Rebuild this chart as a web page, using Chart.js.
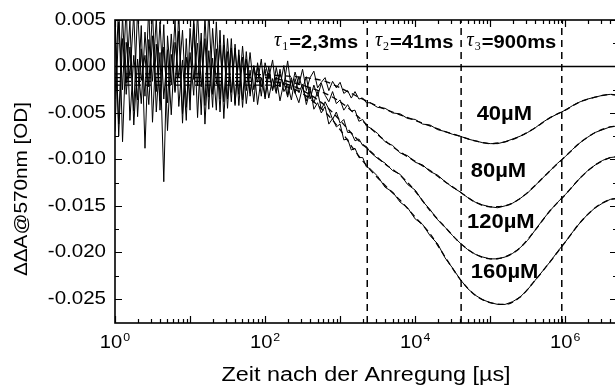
<!DOCTYPE html>
<html>
<head>
<meta charset="utf-8">
<script src="https://cdn.jsdelivr.net/npm/chart.js@4.4.1/dist/chart.umd.min.js"></script>
<style>
  html, body { margin: 0; padding: 0; background: #fff; overflow: hidden; }
  canvas { display: block; }
</style>
</head>
<body>
<canvas id="kinetics" width="618" height="387"></canvas>
<script>
// ===== Daten =====
// Zeitachse der Messkurven [µs]
const timeUs = [
  1, 1.12, 1.26, 1.41, 1.58, 1.78, 2.0, 2.24, 2.51, 2.82,
  3.16, 3.55, 3.98, 4.47, 5.01, 5.62, 6.31, 7.08, 7.94, 8.91,
  10, 11.2, 12.6, 14.1, 15.8, 17.8, 20, 22.4, 25.1, 28.2,
  31.6, 35.5, 39.8, 44.7, 50.1, 56.2, 63.1, 70.8, 79.4, 89.1,
  100, 112, 126, 141, 158, 178, 200, 224, 251, 282,
  316, 355, 398, 447, 501, 562, 631, 708, 794, 891,
  1000, 1120, 1260, 1410, 1580, 1780, 2000, 2240, 2510,
  3160, 3980, 5010, 6310, 7940, 10000, 12600, 15800, 20000, 25100,
  31600, 39800, 50100, 63100, 79400, 100000, 126000, 158000, 200000, 251000,
  316000, 398000, 501000, 631000, 794000, 1000000, 1260000, 1580000, 2000000, 2510000,
  3160000, 3980000, 5010000
];

// Messkurven ΔΔA [OD]
const trace40 = [
  0.0040, -0.0062, 0.0055, -0.0030, 0.0021, -0.0048, 0.0062, -0.0015, 0.0012, -0.0041,
  0.0033, -0.0027, 0.0048, -0.0035, 0.0018, -0.0052, 0.0026, -0.0012, 0.0039, -0.0044,
  0.0015, -0.0031, 0.0058, -0.0022, 0.0030, -0.0046, 0.0041, -0.0019, 0.0023, -0.0038,
  0.0030, -0.0028, 0.0020, -0.0030, 0.0022, -0.0026, 0.0015, -0.0025, -0.0001, -0.0032,
  0.0004, -0.0013, 0.0007, -0.0027, -0.0008, -0.0020, 0.0006, -0.0025, -0.0006, -0.0020,
  -0.0003, -0.0026, -0.0012, -0.0005, -0.0023, -0.0017, -0.0012, -0.0026, -0.0016, -0.0023,
  -0.0017, -0.0029, -0.0026, -0.0034, -0.0027, -0.0035, -0.0034, -0.0039, -0.0039,
  -0.0044, -0.0045, -0.0050, -0.0051, -0.0056, -0.0057, -0.0062, -0.0063, -0.0068, -0.0070,
  -0.0073, -0.0075, -0.0078, -0.0080, -0.0082, -0.0083, -0.0083, -0.0081, -0.0078, -0.0075,
  -0.0071, -0.0066, -0.0060, -0.0055, -0.0051, -0.0047, -0.0042, -0.0038, -0.0035, -0.0033,
  -0.0031, -0.0030, -0.0031
];
const trace80 = [
  -0.0070, 0.0048, -0.0025, 0.0066, -0.0058, 0.0012, -0.0036, 0.0044, -0.0088, 0.0029,
  -0.0016, 0.0052, -0.0047, 0.0021, -0.0039, 0.0035, -0.0028, 0.0057, -0.0051, 0.0010,
  -0.0036, 0.0046, -0.0055, 0.0027, -0.0042, 0.0061, -0.0030, 0.0019, -0.0049, 0.0034,
  -0.0035, 0.0030, -0.0042, 0.0018, -0.0036, 0.0016, -0.0032, 0.0000, -0.0017, 0.0008,
  -0.0035, -0.0007, -0.0026, -0.0001, -0.0022, 0.0001, -0.0031, -0.0015, -0.0029, -0.0011,
  -0.0024, -0.0011, -0.0035, -0.0020, -0.0032, -0.0018, -0.0031, -0.0038, -0.0027, -0.0040,
  -0.0036, -0.0047, -0.0041, -0.0048, -0.0047, -0.0059, -0.0057, -0.0064, -0.0066,
  -0.0072, -0.0081, -0.0085, -0.0093, -0.0096, -0.0103, -0.0106, -0.0113, -0.0117, -0.0124,
  -0.0130, -0.0135, -0.0141, -0.0146, -0.0149, -0.0151, -0.0152, -0.0150, -0.0147, -0.0142,
  -0.0136, -0.0128, -0.0120, -0.0112, -0.0104, -0.0097, -0.0089, -0.0082, -0.0076, -0.0071,
  -0.0068, -0.0065, -0.0064
];
const trace120 = [
  0.0058, -0.0075, 0.0030, -0.0018, 0.0049, -0.0063, 0.0008, -0.0040, 0.0037, -0.0022,
  0.0061, -0.0049, 0.0015, -0.0124, 0.0033, -0.0020, 0.0050, -0.0043, 0.0007, -0.0058,
  0.0041, -0.0014, 0.0025, -0.0052, 0.0054, -0.0033, 0.0009, -0.0047, 0.0039, -0.0056,
  0.0016, -0.0038, 0.0024, -0.0042, 0.0010, -0.0040, -0.0004, -0.0038, 0.0004, -0.0022,
  -0.0003, -0.0034, -0.0013, -0.0029, -0.0003, -0.0027, -0.0019, -0.0036, -0.0013, -0.0028,
  -0.0019, -0.0041, -0.0026, -0.0039, -0.0027, -0.0046, -0.0038, -0.0046, -0.0057, -0.0049,
  -0.0061, -0.0057, -0.0071, -0.0071, -0.0080, -0.0078, -0.0085, -0.0086, -0.0092,
  -0.0099, -0.0104, -0.0112, -0.0116, -0.0127, -0.0133, -0.0145, -0.0154, -0.0165, -0.0173,
  -0.0182, -0.0190, -0.0197, -0.0202, -0.0205, -0.0207, -0.0207, -0.0205, -0.0201, -0.0195,
  -0.0187, -0.0176, -0.0165, -0.0155, -0.0146, -0.0138, -0.0129, -0.0120, -0.0112, -0.0106,
  -0.0101, -0.0098, -0.0097
];
const trace160 = [
  -0.0035, 0.0070, -0.0081, 0.0026, -0.0011, 0.0057, -0.0054, 0.0019, -0.0032, 0.0064,
  -0.0060, 0.0024, -0.0037, 0.0045, -0.0069, 0.0013, -0.0026, 0.0038, -0.0061, 0.0030,
  -0.0047, 0.0052, -0.0021, 0.0036, -0.0062, 0.0017, -0.0044, 0.0048, -0.0035, 0.0023,
  -0.0045, 0.0020, -0.0040, 0.0012, -0.0044, 0.0008, -0.0029, 0.0001, -0.0041, -0.0012,
  -0.0033, 0.0000, -0.0025, -0.0011, -0.0037, -0.0017, -0.0033, -0.0012, -0.0028, -0.0039,
  -0.0022, -0.0037, -0.0022, -0.0046, -0.0039, -0.0050, -0.0043, -0.0062, -0.0056, -0.0065,
  -0.0062, -0.0079, -0.0078, -0.0090, -0.0088, -0.0098, -0.0098, -0.0108, -0.0110,
  -0.0118, -0.0130, -0.0135, -0.0146, -0.0152, -0.0164, -0.0170, -0.0182, -0.0191, -0.0206,
  -0.0217, -0.0229, -0.0239, -0.0246, -0.0251, -0.0254, -0.0256, -0.0256, -0.0253, -0.0248,
  -0.0240, -0.0230, -0.0220, -0.0210, -0.0199, -0.0189, -0.0178, -0.0168, -0.0159, -0.0152,
  -0.0147, -0.0143, -0.0142
];

// Fitkurven (gestrichelt)
const fitTimeUs = [
  1, 10, 100, 251, 631, 1000, 1580, 2510, 3980, 6310, 10000, 15800, 25100,
  39800, 63100, 100000, 158000, 251000, 398000, 631000, 1000000, 1580000, 2510000, 3980000, 5010000
];
const fit40 = [
  -0.0008, -0.0008, -0.0009, -0.0011, -0.0016, -0.0023, -0.0031, -0.0039, -0.0046, -0.0052, -0.0058, -0.0064, -0.0070,
  -0.0075, -0.0080, -0.0083, -0.0081, -0.0075, -0.0066, -0.0055, -0.0047, -0.0038, -0.0033, -0.0030, -0.0031
];
const fit80 = [
  -0.0012, -0.0012, -0.0012, -0.0018, -0.0029, -0.0038, -0.0051, -0.0066, -0.0080, -0.0092, -0.0102, -0.0112, -0.0124,
  -0.0135, -0.0146, -0.0151, -0.0150, -0.0142, -0.0128, -0.0112, -0.0097, -0.0082, -0.0071, -0.0065, -0.0064
];
const fit120 = [
  -0.0016, -0.0016, -0.0016, -0.0022, -0.0042, -0.0058, -0.0076, -0.0091, -0.0105, -0.0117, -0.0134, -0.0155, -0.0173,
  -0.0190, -0.0202, -0.0207, -0.0205, -0.0195, -0.0176, -0.0155, -0.0138, -0.0120, -0.0106, -0.0098, -0.0097
];
const fit160 = [
  -0.0020, -0.0020, -0.0020, -0.0025, -0.0049, -0.0068, -0.0091, -0.0111, -0.0128, -0.0144, -0.0162, -0.0180, -0.0205,
  -0.0229, -0.0246, -0.0254, -0.0256, -0.0248, -0.0230, -0.0210, -0.0189, -0.0168, -0.0152, -0.0143, -0.0142
];

// Zeitkonstanten [µs] und Beschriftung
const tauTimes = [2300, 41000, 900000];
const tauSubs = ["1", "2", "3"];
const tauTexts = ["=2,3ms", "=41ms", "=900ms"];
const concLabels = ["40µM", "80µM", "120µM", "160µM"];

// Achsen
const xMin = 1, xMax = 4.9e6;
const yMin = -0.0276, yMax = 0.005;
const xTickValues = [1, 100, 10000, 1000000];
const xTickExp = ["0", "2", "4", "6"];
const yTickValues = [0.005, 0, -0.005, -0.01, -0.015, -0.02, -0.025];
const yTickLabels = ["0.005", "0.000", "-0.005", "-0.010", "-0.015", "-0.020", "-0.025"];

// ===== Hilfsfunktionen =====
const pts = (xs, ys) => ys.map((v, i) => ({ x: xs[i], y: v }));

function drawText(ctx, s, x, y, font, align, sx = 1, baseline = "middle") {
  ctx.save();
  ctx.translate(x, y);
  ctx.scale(sx, 1);
  ctx.font = font;
  ctx.textAlign = align;
  ctx.textBaseline = baseline;
  ctx.fillText(s, 0, 0);
  ctx.restore();
}

// Rahmen, Ticks nach innen, Beschriftungen
const framePlugin = {
  id: "frame",
  afterDatasetsDraw(chart) {
    const { ctx, chartArea: a, scales: { x, y } } = chart;
    ctx.save();
    ctx.strokeStyle = "#000";
    ctx.fillStyle = "#000";
    ctx.lineWidth = 1.6;
    ctx.strokeRect(a.left, a.top, a.right - a.left, a.bottom - a.top);

    // x-Ticks (unten und oben)
    ctx.lineWidth = 1.2;
    ctx.beginPath();
    for (let d = 0; d <= 6; d++) {
      for (let m = 1; m <= 9; m++) {
        const v = m * Math.pow(10, d);
        if (v > xMax) break;
        const px = Math.round(x.getPixelForValue(v)) + 0.5;
        const len = m === 1 ? 7 : 4;
        ctx.moveTo(px, a.bottom); ctx.lineTo(px, a.bottom - len);
        ctx.moveTo(px, a.top); ctx.lineTo(px, a.top + len);
      }
    }
    // y-Ticks (links und rechts)
    for (let k = -10; k <= 2; k++) {
      const py = Math.round(y.getPixelForValue(k * 0.0025)) + 0.5;
      const len = k % 2 === 0 ? 7 : 4;
      ctx.moveTo(a.left, py); ctx.lineTo(a.left + len, py);
      ctx.moveTo(a.right, py); ctx.lineTo(a.right - len, py);
    }
    ctx.stroke();

    // y-Beschriftung
    yTickValues.forEach((v, i) => {
      drawText(ctx, yTickLabels[i], a.left - 9, y.getPixelForValue(v), "18px 'Liberation Sans', Arial", "right", 1.14);
    });

    // x-Beschriftung 10^n
    xTickValues.forEach((v, i) => {
      const px = x.getPixelForValue(v);
      ctx.font = "18px 'Liberation Sans', Arial";
      const w1 = ctx.measureText("10").width * 1.12;
      ctx.font = "11px 'Liberation Sans', Arial";
      const w2 = ctx.measureText(xTickExp[i]).width * 1.12;
      const left = px - (w1 + w2 + 1) / 2;
      drawText(ctx, "10", left, a.bottom + 25, "18px 'Liberation Sans', Arial", "left", 1.12, "alphabetic");
      drawText(ctx, xTickExp[i], left + w1 + 1, a.bottom + 17.5, "11px 'Liberation Sans', Arial", "left", 1.12, "alphabetic");
    });

    // Achsentitel
    drawText(ctx, "Zeit nach der Anregung [µs]", 366, 375, "20px 'Liberation Sans', Arial", "center", 1.17);
    ctx.save();
    ctx.translate(22, 189);
    ctx.rotate(-Math.PI / 2);
    drawText(ctx, "ΔΔA@570nm [OD]", 0, 0, "18px 'Liberation Sans', Arial", "center", 1.15);
    ctx.restore();

    // τ-Beschriftungen zwischen den Linien
    const ty = y.getPixelForValue(0.0027);
    tauTimes.forEach((t, i) => {
      const x1 = x.getPixelForValue(t);
      const x0 = x.getPixelForValue(i === 0 ? 100 : tauTimes[i - 1]);
      const cx = (x0 + x1) / 2;
      const fTau = "italic 20px 'Liberation Serif', serif";
      const fSub = "12px 'Liberation Serif', serif";
      const fTxt = "bold 18px 'Liberation Sans', Arial";
      ctx.font = fTau; const wT = ctx.measureText("τ").width;
      ctx.font = fSub; const wS = ctx.measureText(tauSubs[i]).width;
      ctx.font = fTxt; const wX = ctx.measureText(tauTexts[i]).width * 1.12;
      let left = cx - (wT + wS + 2 + wX) / 2;
      drawText(ctx, "τ", left, ty + 5, fTau, "left", 1, "alphabetic");
      left += wT + 1;
      drawText(ctx, tauSubs[i], left, ty + 9, fSub, "left", 1, "alphabetic");
      left += wS + 1;
      drawText(ctx, tauTexts[i], left, ty + 6.5, fTxt, "left", 1.12, "alphabetic");
    });

    // Konzentrationen
    const concAnchors = [[66000, -0.00514], [55000, -0.01127], [49000, -0.01675], [55000, -0.0222]];
    concLabels.forEach((s, i) => {
      const [t, v] = concAnchors[i];
      drawText(ctx, s, x.getPixelForValue(t), y.getPixelForValue(v), "bold 20px 'Liberation Sans', Arial", "left", 1.1);
    });
    ctx.restore();
  }
};

// ===== Diagramm =====
document.addEventListener("DOMContentLoaded", () => {
  const ctx = document.getElementById("kinetics");

  const traceStyle = { borderColor: "#000", borderWidth: 1, pointRadius: 0, tension: 0, order: 2 };
  const fitStyle = { borderColor: "#000", borderWidth: 1.3, pointRadius: 0, borderDash: [6, 4], cubicInterpolationMode: "monotone", order: 1 };
  const lineStyle = { borderColor: "#000", pointRadius: 0, order: 0 };

  const datasets = [
    { label: "0", data: [{ x: xMin, y: 0 }, { x: xMax, y: 0 }], borderWidth: 1.5, ...lineStyle },
    ...tauTimes.map(t => ({
      label: "tau", data: [{ x: t, y: yMin }, { x: t, y: yMax }], borderWidth: 1.5, borderDash: [7, 5], ...lineStyle
    })),
    { label: "40µM Fit", data: pts(fitTimeUs, fit40), ...fitStyle },
    { label: "80µM Fit", data: pts(fitTimeUs, fit80), ...fitStyle },
    { label: "120µM Fit", data: pts(fitTimeUs, fit120), ...fitStyle },
    { label: "160µM Fit", data: pts(fitTimeUs, fit160), ...fitStyle },
    { label: "40µM", data: pts(timeUs, trace40), ...traceStyle },
    { label: "80µM", data: pts(timeUs, trace80), ...traceStyle },
    { label: "120µM", data: pts(timeUs, trace120), ...traceStyle },
    { label: "160µM", data: pts(timeUs, trace160), ...traceStyle }
  ];

  new Chart(ctx, {
    type: "line",
    data: { datasets },
    options: {
      responsive: false,
      animation: false,
      layout: { padding: { left: 115, top: 20, right: 1, bottom: 64 } },
      scales: {
        x: { type: "logarithmic", min: xMin, max: xMax, display: false },
        y: { type: "linear", min: yMin, max: yMax, display: false }
      },
      plugins: { legend: { display: false }, tooltip: { enabled: false } }
    },
    plugins: [framePlugin]
  });
});
</script>
</body>
</html>
